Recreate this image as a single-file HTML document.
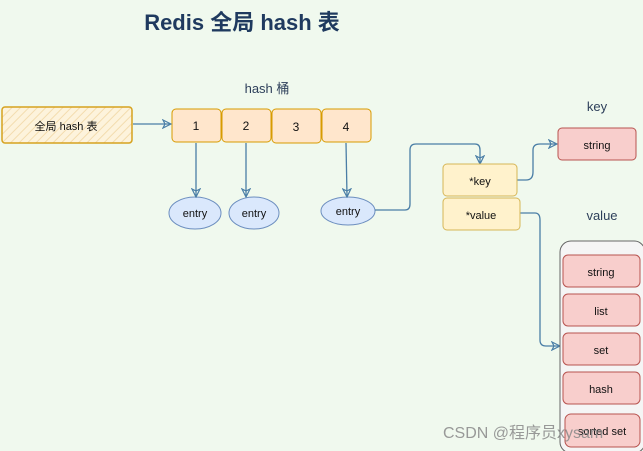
<!DOCTYPE html>
<html><head><meta charset="utf-8"><style>
html,body{margin:0;padding:0;background:#f0f9ee;}
svg{display:block;font-family:"Liberation Sans","Noto Sans CJK SC",sans-serif;}
</style></head><body>
<svg width="643" height="451" viewBox="0 0 643 451" xmlns="http://www.w3.org/2000/svg">
<defs>
<pattern id="h" width="6" height="6" patternUnits="userSpaceOnUse" patternTransform="rotate(45)">
<rect width="6" height="6" fill="#fdf3dc"/><line x1="0" y1="0" x2="0" y2="6" stroke="#f3dcae" stroke-width="2"/>
</pattern>
<marker id="a" markerWidth="10" markerHeight="10" refX="8" refY="5" orient="auto" markerUnits="userSpaceOnUse">
<path d="M1,1 L9,5 L1,9 L3,5 Z" fill="none" stroke="#4a7ea6" stroke-width="1.2"/>
</marker>
</defs>
<rect width="643" height="451" fill="#f0f9ee"/>
<text x="242" y="30" text-anchor="middle" font-size="22" fill="#1f3a5f" font-weight="bold">Redis 全局 hash 表</text>
<text x="267" y="93" text-anchor="middle" font-size="13" fill="#2d3f5a">hash 桶</text>
<text x="597" y="111" text-anchor="middle" font-size="13" fill="#2d3f5a">key</text>
<text x="602" y="220" text-anchor="middle" font-size="13" fill="#2d3f5a">value</text>

<rect x="2" y="107" width="130" height="36" rx="3" fill="url(#h)" stroke="#d6a21e" stroke-width="1.5"/>
<text x="66" y="130" text-anchor="middle" font-size="11" fill="#111">全局 hash 表</text>

<g fill="#ffe6cc" stroke="#d79b00" stroke-width="1">
<rect x="172" y="109" width="49" height="33" rx="4"/>
<rect x="222" y="109" width="49" height="33" rx="4"/>
<rect x="272" y="109" width="49" height="34" rx="4"/>
<rect x="322" y="109" width="49" height="33" rx="4"/>
</g>
<g font-size="12" fill="#111" text-anchor="middle">
<text x="196" y="130">1</text><text x="246" y="130">2</text><text x="296" y="131">3</text><text x="346" y="131">4</text>
</g>

<g fill="#dae8fc" stroke="#6c8ebf">
<ellipse cx="195" cy="213" rx="26" ry="16"/>
<ellipse cx="254" cy="213" rx="25" ry="16"/>
<ellipse cx="348" cy="211" rx="27" ry="14"/>
</g>
<g font-size="11" fill="#111" text-anchor="middle">
<text x="195" y="217">entry</text><text x="254" y="217">entry</text><text x="348" y="215">entry</text>
</g>

<g fill="none" stroke="#4a7ea6" stroke-width="1.3" marker-end="url(#a)">
<path d="M133,124 L170,124"/>
<path d="M196,143 L196,196"/>
<path d="M246,143 L246,196"/>
<path d="M346,143 L347,196"/>
<path d="M375,210 L405,210 Q410,210 410,204 L410,150 Q410,144 416,144 L475,144 Q480,144 480,150 L480,163"/>
<path d="M517,180 L526,180 Q533,180 533,172 L533,150 Q533,144 540,144 L556,144"/>
<path d="M520,213 L535,213 Q540,213 540,220 L540,340 Q540,346 546,346 L559,346"/>
</g>

<rect x="443" y="164" width="74" height="32" rx="4" fill="#fff2cc" stroke="#d6b656"/>
<rect x="443" y="198" width="77" height="32" rx="4" fill="#fff2cc" stroke="#d6b656"/>
<text x="480" y="185" text-anchor="middle" font-size="11" fill="#111">*key</text>
<text x="481" y="219" text-anchor="middle" font-size="11" fill="#111">*value</text>

<rect x="558" y="128" width="78" height="32" rx="4" fill="#f8cecc" stroke="#b85450"/>
<text x="597" y="149" text-anchor="middle" font-size="11" fill="#111">string</text>

<rect x="560" y="241" width="85" height="212" rx="11" fill="#f5f5f5" stroke="#666"/>
<g fill="#f8cecc" stroke="#b85450">
<rect x="563" y="255" width="77" height="32" rx="5"/>
<rect x="563" y="294" width="77" height="32" rx="5"/>
<rect x="563" y="333" width="77" height="32" rx="5"/>
<rect x="563" y="372" width="77" height="32" rx="5"/>
<rect x="565" y="414" width="75" height="33" rx="6"/>
</g>
<g font-size="11" fill="#111" text-anchor="middle">
<text x="601" y="276">string</text><text x="601" y="315">list</text><text x="601" y="354">set</text><text x="601" y="393">hash</text><text x="602" y="435">sorted set</text>
</g>
<text x="443" y="438" font-size="16" fill="#888" fill-opacity="0.85">CSDN @程序员xysam</text>
</svg>
</body></html>
